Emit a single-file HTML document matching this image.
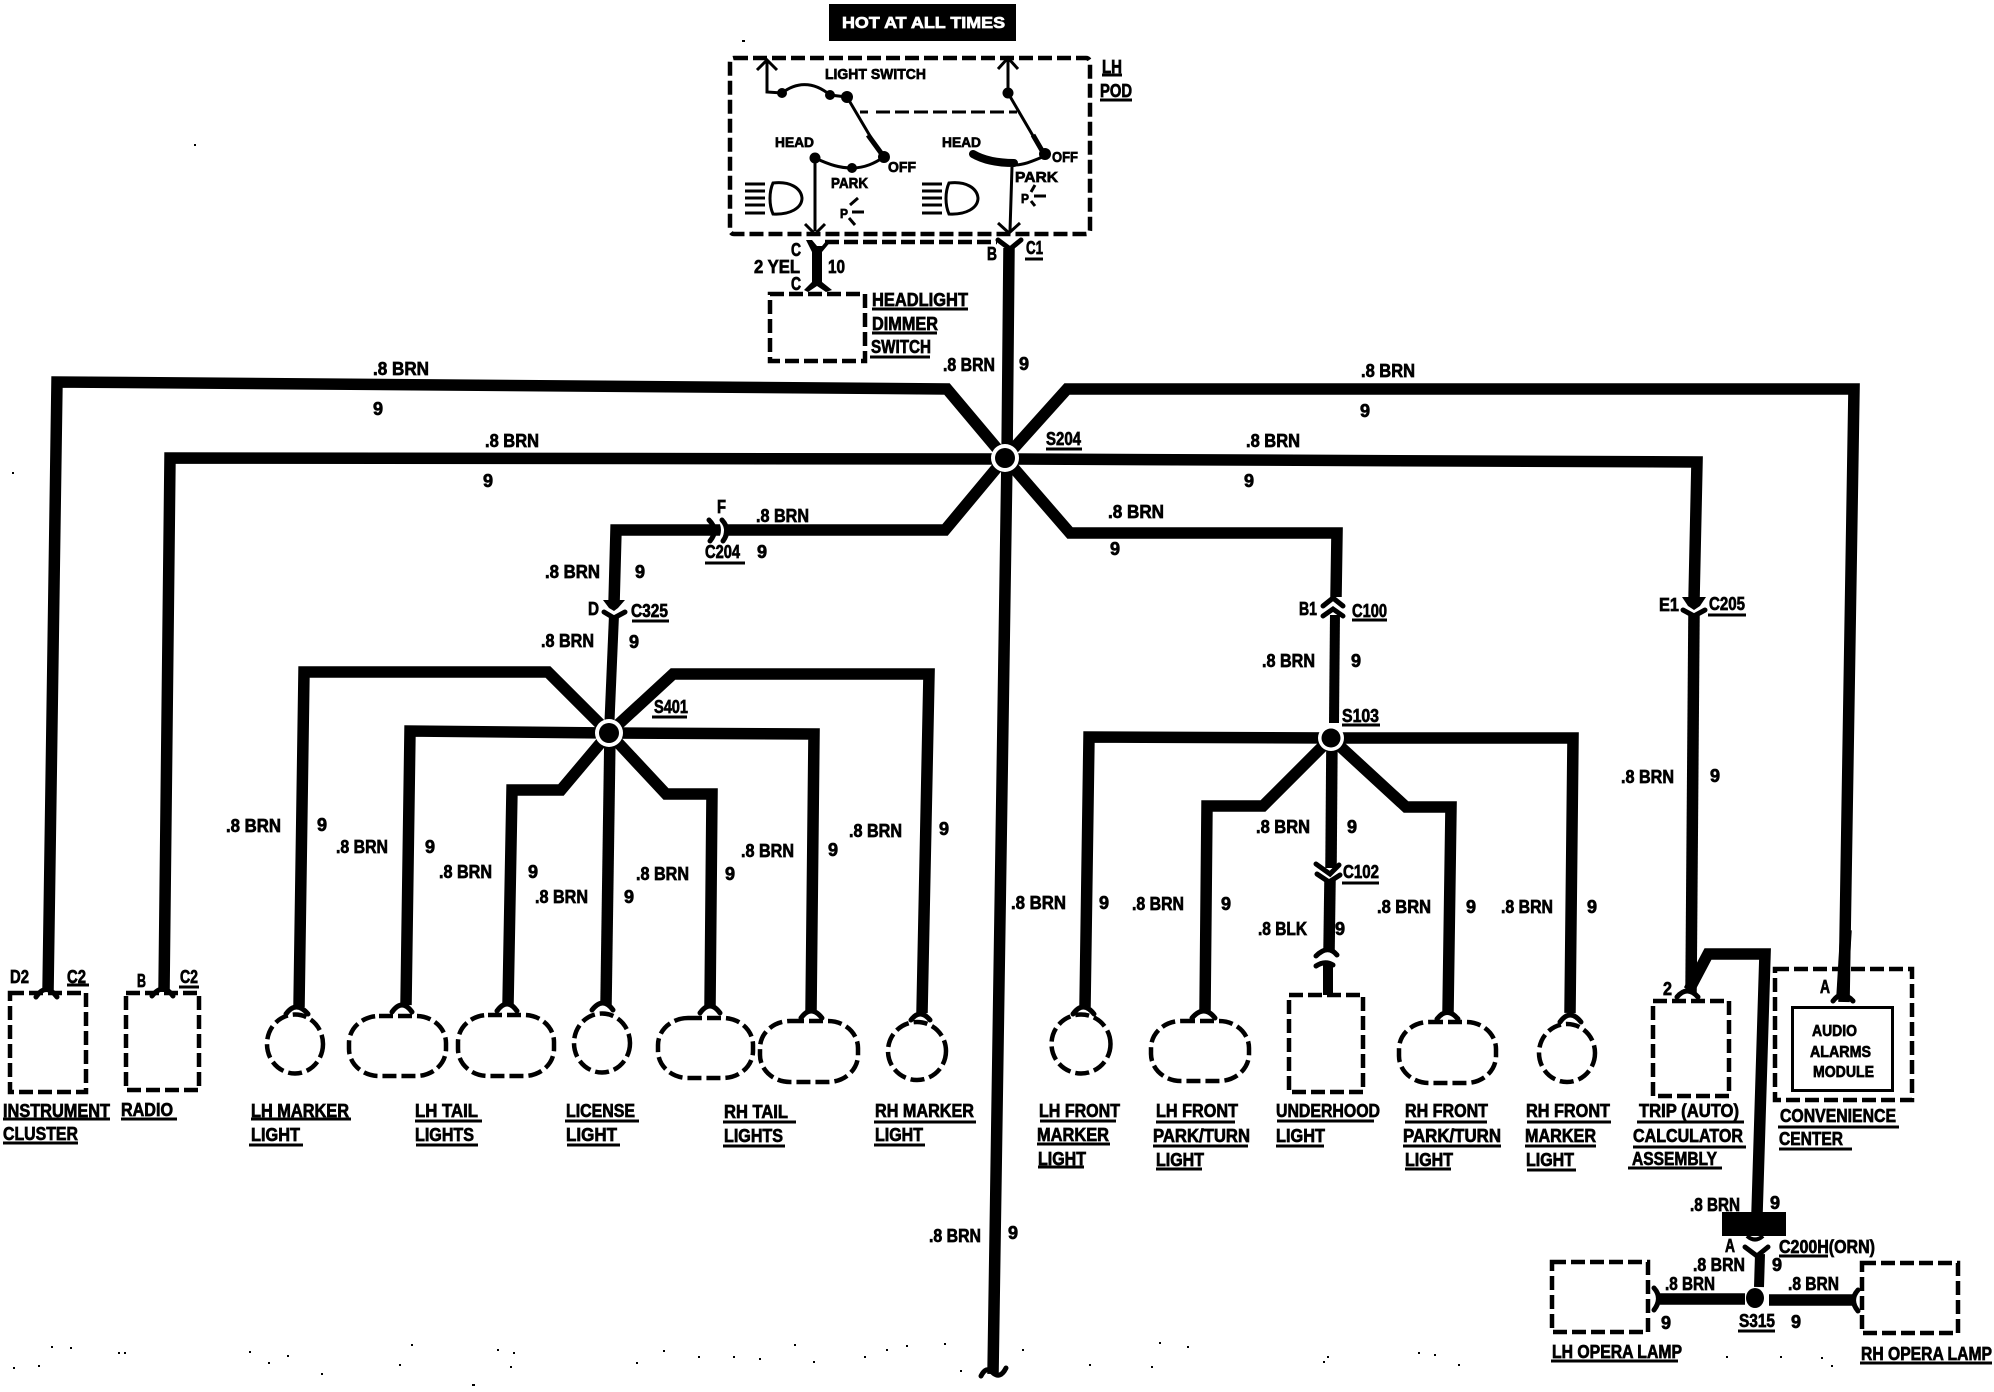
<!DOCTYPE html>
<html><head><meta charset="utf-8"><title>Wiring diagram</title>
<style>
html,body{margin:0;padding:0;background:#fff}
svg{display:block}
text{font-family:"Liberation Sans",sans-serif;font-weight:bold;font-size:18px;fill:#000;stroke:#000;stroke-width:.7}
.n text{text-anchor:middle}
.w{fill:none;stroke:#000;stroke-width:11.5;stroke-linejoin:miter}
.t{fill:none;stroke:#000;stroke-width:10;stroke-linejoin:miter}
.c{fill:none;stroke:#000;stroke-width:5;stroke-linecap:round}
.d{fill:none;stroke:#000;stroke-width:4.5;stroke-dasharray:14 5}
.l{fill:none;stroke:#000;stroke-width:3}
.u{fill:none;stroke:#000;stroke-width:3}
</style></head><body>
<svg xmlns="http://www.w3.org/2000/svg" width="1994" height="1392" viewBox="0 0 1994 1392">
<rect width="1994" height="1392" fill="#fff"/>

<!-- header -->
<rect x="829" y="4" width="187" height="37" fill="#000"/>
<text x="842" y="28" textLength="163" lengthAdjust="spacingAndGlyphs" style="fill:#fff;stroke:#fff;font-size:16px">HOT AT ALL TIMES</text>

<!-- pod -->
<rect x="730" y="58" width="360" height="176" rx="4" class="d"/>
<text x="1102" y="73" textLength="20" lengthAdjust="spacingAndGlyphs">LH</text>
<path class="u" d="M1102 75H1122M1100 100H1132"/>
<text x="1100" y="97" textLength="32" lengthAdjust="spacingAndGlyphs">POD</text>
<text x="825" y="79" textLength="101" lengthAdjust="spacingAndGlyphs" style="font-size:15px">LIGHT SWITCH</text>

<path class="l" d="M757 70L767 60L777 70M767 60V92L782 93C795 83 812 80 830 95L847 97L880 153"/>
<path fill="none" stroke="#000" stroke-width="5" d="M868 135L884 157"/>
<circle cx="782" cy="93" r="5"/><circle cx="830" cy="95" r="5"/><circle cx="847" cy="97" r="6"/><circle cx="884" cy="157" r="6"/>
<path class="l" d="M815 158C830 165 840 168 852 168C865 168 875 163 884 157M815 158V231M805 224L815 234L825 224" stroke-width="3"/>
<circle cx="815" cy="158" r="5.5"/><circle cx="852" cy="168" r="5"/>
<path class="l" d="M860 112H868M876 112H1017" stroke-dasharray="14 5"/>
<text x="775" y="147" textLength="39" lengthAdjust="spacingAndGlyphs" style="font-size:14px">HEAD</text>
<text x="888" y="172" textLength="28" lengthAdjust="spacingAndGlyphs" style="font-size:15px">OFF</text>
<text x="831" y="188" textLength="37" lengthAdjust="spacingAndGlyphs" style="font-size:15px">PARK</text>

<path class="l" d="M998 69L1008 58L1018 69M1008 58V93L1043 153"/>
<path fill="none" stroke="#000" stroke-width="5" d="M1033 135L1044 154"/>
<circle cx="1008" cy="93" r="5.5"/><circle cx="1045" cy="154" r="6"/>
<path fill="none" stroke="#000" stroke-width="8" stroke-linecap="round" d="M973 154C985 161 1000 163 1014 163"/>
<path class="l" d="M1014 165C1025 165 1035 160 1045 156M1012 167L1010 231M998 223L1009 233L1020 223"/>
<text x="942" y="147" textLength="39" lengthAdjust="spacingAndGlyphs" style="font-size:14px">HEAD</text>
<text x="1052" y="162" textLength="26" lengthAdjust="spacingAndGlyphs" style="font-size:15px">OFF</text>
<text x="1015" y="182" textLength="43" lengthAdjust="spacingAndGlyphs" style="font-size:15px">PARK</text>

<!-- lamp icons -->
<path class="l" d="M745 184H765M745 191H765M745 198H765M745 205H765M745 213H765"/>
<path class="l" d="M773 183C790 181 801 188 802 198C802 208 790 215 773 214C769 205 769 192 773 183Z"/>
<path class="l" d="M922 184H942M922 191H942M922 198H942M922 205H942M922 213H942"/>
<path class="l" d="M949 183C966 181 977 188 978 198C978 208 966 215 949 214C945 205 945 192 949 183Z"/>
<text x="840" y="218" textLength="8" lengthAdjust="spacingAndGlyphs" style="font-size:13px">P</text>
<path class="l" d="M850 205L858 198M852 212H864M849 218L855 225"/>
<text x="1021" y="203" textLength="8" lengthAdjust="spacingAndGlyphs" style="font-size:13px">P</text>
<path class="l" d="M1031 192L1035 185M1034 196H1046M1031 201L1035 206"/>

<!-- C / C1 -->
<path class="d" d="M825 242H997" stroke-width="3" stroke-dasharray="9 5"/>
<path fill="#000" d="M806 240L812 240L817 246L822 246L827 240L832 240L822 252V282L832 290L826 292L817 286L808 292L804 290L812 282V252Z"/>
<text x="791" y="256" textLength="10" lengthAdjust="spacingAndGlyphs">C</text>
<text x="754" y="273" textLength="46" lengthAdjust="spacingAndGlyphs">2 YEL</text>
<text x="828" y="273" textLength="17" lengthAdjust="spacingAndGlyphs">10</text>
<text x="791" y="290" textLength="10" lengthAdjust="spacingAndGlyphs">C</text>
<rect x="770" y="294" width="95" height="67" class="d"/>
<text x="872" y="306" textLength="96" lengthAdjust="spacingAndGlyphs">HEADLIGHT</text>
<path class="u" d="M872 309H968M872 333H937M870 357H930"/>
<text x="872" y="330" textLength="66" lengthAdjust="spacingAndGlyphs">DIMMER</text>
<text x="871" y="353" textLength="60" lengthAdjust="spacingAndGlyphs">SWITCH</text>

<path class="c" d="M998 240L1010 249L1021 240"/>
<text x="987" y="260" textLength="10" lengthAdjust="spacingAndGlyphs">B</text>
<text x="1026" y="254" textLength="17" lengthAdjust="spacingAndGlyphs">C1</text>
<path class="u" d="M1025 259H1043"/>

<!-- main wires -->
<polyline class="w" points="1009,248 1007,458 993,1374"/>
<polyline class="w" points="48,992 57,382 947,389 1005,458"/>
<polyline class="w" points="164,992 170,458 1005,459"/>
<polyline class="w" points="1844,1002 1854,389 1067,389 1005,458"/>
<polyline class="w" points="1005,459 1697,462 1694,600"/>
<polyline class="w" points="1694,613 1691,993"/>
<polyline class="w" points="1005,458 1070,533 1337,533 1336,597"/>
<polyline class="t" points="1335,612 1334,723"/>
<polyline class="w" points="1005,458 945,530 616,530 614,604"/>

<!-- S401 group -->
<polyline class="t" points="614,615 609,733"/>
<polyline class="w" points="299,1007 304,672 548,672 609,733"/>
<polyline class="w" points="922,1013 929,674 673,674 609,733"/>
<polyline class="w" points="406,1005 410,731 609,733"/>
<polyline class="w" points="811,1013 814,734 609,733"/>
<polyline class="w" points="508,1005 512,790 561,790 609,733"/>
<polyline class="w" points="710,1007 712,794 666,794 609,733"/>
<polyline class="w" points="606,1005 610,733"/>

<!-- S103 group -->
<polyline class="w" points="1085,1007 1089,737 1331,738"/>
<polyline class="w" points="1570,1013 1573,738 1331,738"/>
<polyline class="w" points="1205,1012 1207,806 1263,806 1331,738"/>
<polyline class="w" points="1448,1013 1451,807 1406,807 1331,738"/>
<polyline class="w" points="1332,738 1331,868"/>
<polyline class="w" points="1330,880 1329,952"/>
<polyline class="t" points="1328,964 1328,995"/>

<!-- trip and convenience feeds -->
<polyline class="w" points="1846,930 1842,997"/>
<polyline class="w" points="1689,990 1708,954 1765,954 1757,1214"/>

<!-- splices -->
<circle cx="1005" cy="458" r="14" fill="#fff"/><circle cx="1005" cy="458" r="10" fill="#000"/>
<circle cx="609" cy="733" r="14" fill="#fff"/><circle cx="609" cy="733" r="10" fill="#000"/>
<circle cx="1331" cy="738" r="13" fill="#fff"/><circle cx="1331" cy="738" r="9.5" fill="#000"/>

<!-- C204 -->
<path fill="none" stroke="#fff" stroke-width="3" d="M718 517Q727 530 718 543"/>
<path class="c" stroke-width="4" d="M709 520Q719 530 710 541M722 520Q731 530 723 541"/>
<!-- C325 -->
<path fill="#000" d="M603 600H625L618 608L614 611L609 608Z"/>
<path class="c" d="M604 612L614 618L625 612" stroke-width="4"/>
<!-- C205 -->
<path fill="#000" d="M1682 597H1706L1700 606L1694 610L1688 606Z"/>
<path class="c" d="M1683 610L1694 616L1705 610" stroke-width="4"/>
<!-- C100 -->
<rect x="1318" y="597" width="34" height="18" fill="#fff"/>
<path class="c" d="M1323 606L1333 598L1343 606M1323 616L1333 609L1343 616" stroke-width="4.5"/>
<!-- C102 -->
<rect x="1313" y="870" width="32" height="7" fill="#fff"/>
<path class="c" d="M1316 864L1330 874L1339 865M1317 874L1329 882L1340 875" stroke-width="5"/>
<rect x="1313" y="952" width="30" height="10" fill="#fff"/>
<path class="c" d="M1316 956Q1328 944 1337 955M1316 966Q1325 960 1333 965" stroke-width="5"/>

<!-- cups -->
<path class="c" d="M36 997Q46 982 57 997M152 996Q163 982 173 996M286 1014Q296 1000 308 1014M392 1012Q402 998 412 1012M497 1011Q507 997 517 1011M592 1010Q603 996 613 1010M700 1013Q710 999 720 1013M801 1018Q811 1004 822 1018M911 1020Q920 1008 930 1020M1073 1014Q1083 1000 1094 1014M1192 1018Q1204 1004 1215 1018M1437 1019Q1447 1006 1458 1019M1560 1022Q1570 1008 1581 1022M1677 997Q1687 985 1698 997M1833 1001Q1842 989 1853 1001"/>
<path class="c" d="M981 1376Q986 1366 992 1372Q1000 1380 1006 1368"/>

<!-- dashed devices -->
<rect x="10" y="993" width="76" height="99" class="d"/>
<rect x="126" y="993" width="73" height="97" class="d"/>
<ellipse cx="295" cy="1044" rx="28" ry="29.5" class="d"/>
<rect x="349" y="1016" width="97" height="60" rx="30" ry="27" class="d"/>
<rect x="458" y="1015" width="96" height="61" rx="30" ry="27" class="d"/>
<ellipse cx="602" cy="1043" rx="28" ry="29.5" class="d"/>
<rect x="658" y="1018" width="95" height="60" rx="30" ry="27" class="d"/>
<rect x="760" y="1021" width="98" height="61" rx="30" ry="27" class="d"/>
<ellipse cx="917" cy="1051" rx="29" ry="29" class="d"/>
<ellipse cx="1081" cy="1044" rx="29.5" ry="29.5" class="d"/>
<rect x="1151" y="1021" width="98" height="60" rx="30" ry="27" class="d"/>
<rect x="1289" y="995" width="74" height="97" class="d"/>
<rect x="1399" y="1022" width="97" height="61" rx="30" ry="27" class="d"/>
<ellipse cx="1567" cy="1053" rx="28" ry="29" class="d"/>
<rect x="1653" y="1001" width="76" height="95" class="d"/>
<rect x="1775" y="969" width="137" height="131" class="d"/>
<rect x="1792.500" y="1007.500" width="100" height="83" fill="none" stroke="#000" stroke-width="3"/>
<rect x="1552" y="1262" width="96" height="70" class="d"/>
<rect x="1862" y="1263" width="96" height="70" class="d"/>

<!-- C200H / S315 -->
<rect x="1722" y="1212" width="64" height="24" fill="#000"/>
<path fill="none" stroke="#000" stroke-width="4" d="M1747 1236Q1755 1243 1763 1236"/>
<path class="c" d="M1745 1247L1757 1256L1768 1247"/>
<polyline class="t" points="1760,1254 1759,1287"/>
<ellipse cx="1755" cy="1298" rx="9" ry="10"/>
<polyline class="w" points="1660,1299 1745,1299"/>
<polyline class="w" points="1769,1300 1853,1300"/>
<path class="c" d="M1654 1288Q1663 1298 1654 1310M1858 1290Q1849 1300 1858 1311" stroke-width="4"/>

<!-- wire labels -->
<g>
<text x="373" y="375" textLength="56" lengthAdjust="spacingAndGlyphs">.8 BRN</text>
<text x="485" y="447" textLength="54" lengthAdjust="spacingAndGlyphs">.8 BRN</text>
<text x="943" y="371" textLength="52" lengthAdjust="spacingAndGlyphs">.8 BRN</text>
<text x="1361" y="377" textLength="54" lengthAdjust="spacingAndGlyphs">.8 BRN</text>
<text x="1246" y="447" textLength="54" lengthAdjust="spacingAndGlyphs">.8 BRN</text>
<text x="756" y="522" textLength="53" lengthAdjust="spacingAndGlyphs">.8 BRN</text>
<text x="1108" y="518" textLength="56" lengthAdjust="spacingAndGlyphs">.8 BRN</text>
<text x="545" y="578" textLength="55" lengthAdjust="spacingAndGlyphs">.8 BRN</text>
<text x="541" y="647" textLength="53" lengthAdjust="spacingAndGlyphs">.8 BRN</text>
<text x="1262" y="667" textLength="53" lengthAdjust="spacingAndGlyphs">.8 BRN</text>
<text x="226" y="832" textLength="55" lengthAdjust="spacingAndGlyphs">.8 BRN</text>
<text x="336" y="853" textLength="52" lengthAdjust="spacingAndGlyphs">.8 BRN</text>
<text x="439" y="878" textLength="53" lengthAdjust="spacingAndGlyphs">.8 BRN</text>
<text x="535" y="903" textLength="53" lengthAdjust="spacingAndGlyphs">.8 BRN</text>
<text x="636" y="880" textLength="53" lengthAdjust="spacingAndGlyphs">.8 BRN</text>
<text x="849" y="837" textLength="53" lengthAdjust="spacingAndGlyphs">.8 BRN</text>
<text x="741" y="857" textLength="53" lengthAdjust="spacingAndGlyphs">.8 BRN</text>
<text x="1011" y="909" textLength="55" lengthAdjust="spacingAndGlyphs">.8 BRN</text>
<text x="1132" y="910" textLength="52" lengthAdjust="spacingAndGlyphs">.8 BRN</text>
<text x="1256" y="833" textLength="54" lengthAdjust="spacingAndGlyphs">.8 BRN</text>
<text x="1377" y="913" textLength="54" lengthAdjust="spacingAndGlyphs">.8 BRN</text>
<text x="1501" y="913" textLength="52" lengthAdjust="spacingAndGlyphs">.8 BRN</text>
<text x="1621" y="783" textLength="53" lengthAdjust="spacingAndGlyphs">.8 BRN</text>
<text x="929" y="1242" textLength="52" lengthAdjust="spacingAndGlyphs">.8 BRN</text>
<text x="1690" y="1211" textLength="50" lengthAdjust="spacingAndGlyphs">.8 BRN</text>
<text x="1693" y="1271" textLength="52" lengthAdjust="spacingAndGlyphs">.8 BRN</text>
<text x="1665" y="1290" textLength="50" lengthAdjust="spacingAndGlyphs">.8 BRN</text>
<text x="1788" y="1290" textLength="51" lengthAdjust="spacingAndGlyphs">.8 BRN</text>
<text x="1258" y="935" textLength="49" lengthAdjust="spacingAndGlyphs">.8 BLK</text>
</g>
<g class="n">
<text x="378" y="415">9</text><text x="488" y="487">9</text><text x="1024" y="370">9</text><text x="1365" y="417">9</text><text x="1249" y="487">9</text>
<text x="762" y="558">9</text><text x="1115" y="555">9</text><text x="640" y="578">9</text><text x="634" y="648">9</text><text x="1356" y="667">9</text>
<text x="322" y="831">9</text><text x="430" y="853">9</text><text x="533" y="878">9</text><text x="629" y="903">9</text><text x="730" y="880">9</text>
<text x="944" y="835">9</text><text x="833" y="856">9</text><text x="1104" y="909">9</text><text x="1226" y="910">9</text><text x="1352" y="833">9</text>
<text x="1340" y="935">9</text><text x="1471" y="913">9</text><text x="1592" y="913">9</text><text x="1715" y="782">9</text><text x="1013" y="1239">9</text>
<text x="1775" y="1209">9</text><text x="1777" y="1271">9</text><text x="1666" y="1329">9</text><text x="1796" y="1328">9</text>
</g>

<!-- connector labels -->
<text x="717" y="513" textLength="9" lengthAdjust="spacingAndGlyphs">F</text>
<text x="705" y="558" textLength="35" lengthAdjust="spacingAndGlyphs">C204</text>
<text x="588" y="615" textLength="11" lengthAdjust="spacingAndGlyphs">D</text>
<text x="631" y="617" textLength="37" lengthAdjust="spacingAndGlyphs">C325</text>
<text x="1299" y="615" textLength="18" lengthAdjust="spacingAndGlyphs">B1</text>
<text x="1352" y="617" textLength="35" lengthAdjust="spacingAndGlyphs">C100</text>
<text x="1659" y="611" textLength="20" lengthAdjust="spacingAndGlyphs">E1</text>
<text x="1709" y="610" textLength="36" lengthAdjust="spacingAndGlyphs">C205</text>
<text x="1046" y="445" textLength="35" lengthAdjust="spacingAndGlyphs">S204</text>
<text x="654" y="713" textLength="34" lengthAdjust="spacingAndGlyphs">S401</text>
<text x="1342" y="722" textLength="37" lengthAdjust="spacingAndGlyphs">S103</text>
<text x="1343" y="878" textLength="36" lengthAdjust="spacingAndGlyphs">C102</text>
<text x="10" y="983" textLength="19" lengthAdjust="spacingAndGlyphs">D2</text>
<text x="67" y="983" textLength="19" lengthAdjust="spacingAndGlyphs">C2</text>
<text x="137" y="987" textLength="9" lengthAdjust="spacingAndGlyphs">B</text>
<text x="180" y="983" textLength="18" lengthAdjust="spacingAndGlyphs">C2</text>
<text x="1663" y="995" textLength="9" lengthAdjust="spacingAndGlyphs">2</text>
<text x="1820" y="993" textLength="10" lengthAdjust="spacingAndGlyphs">A</text>
<text x="1725" y="1252" textLength="10" lengthAdjust="spacingAndGlyphs">A</text>
<text x="1779" y="1253" textLength="96" lengthAdjust="spacingAndGlyphs">C200H(ORN)</text>
<text x="1739" y="1327" textLength="36" lengthAdjust="spacingAndGlyphs">S315</text>
<path class="u" d="M705 563H745M632 621H669M1352 620H1387M1708 615H1746M1046 449H1082M652 717H687M1342 725H1380M1342 883H1379M67 985H89M179 987H199M1779 1256H1828M1738 1331H1775"/>

<!-- device labels -->
<g>
<text x="3" y="1117" textLength="107" lengthAdjust="spacingAndGlyphs">INSTRUMENT</text>
<text x="3" y="1140" textLength="75" lengthAdjust="spacingAndGlyphs">CLUSTER</text>
<text x="121" y="1116" textLength="52" lengthAdjust="spacingAndGlyphs">RADIO</text>
<text x="251" y="1117" textLength="98" lengthAdjust="spacingAndGlyphs">LH MARKER</text>
<text x="251" y="1141" textLength="49" lengthAdjust="spacingAndGlyphs">LIGHT</text>
<text x="415" y="1117" textLength="63" lengthAdjust="spacingAndGlyphs">LH TAIL</text>
<text x="415" y="1141" textLength="59" lengthAdjust="spacingAndGlyphs">LIGHTS</text>
<text x="566" y="1117" textLength="69" lengthAdjust="spacingAndGlyphs">LICENSE</text>
<text x="566" y="1141" textLength="51" lengthAdjust="spacingAndGlyphs">LIGHT</text>
<text x="724" y="1118" textLength="64" lengthAdjust="spacingAndGlyphs">RH TAIL</text>
<text x="724" y="1142" textLength="59" lengthAdjust="spacingAndGlyphs">LIGHTS</text>
<text x="875" y="1117" textLength="99" lengthAdjust="spacingAndGlyphs">RH MARKER</text>
<text x="875" y="1141" textLength="48" lengthAdjust="spacingAndGlyphs">LIGHT</text>
<text x="1039" y="1117" textLength="81" lengthAdjust="spacingAndGlyphs">LH FRONT</text>
<text x="1037" y="1141" textLength="72" lengthAdjust="spacingAndGlyphs">MARKER</text>
<text x="1038" y="1165" textLength="48" lengthAdjust="spacingAndGlyphs">LIGHT</text>
<text x="1156" y="1117" textLength="82" lengthAdjust="spacingAndGlyphs">LH FRONT</text>
<text x="1153" y="1142" textLength="97" lengthAdjust="spacingAndGlyphs">PARK/TURN</text>
<text x="1156" y="1166" textLength="48" lengthAdjust="spacingAndGlyphs">LIGHT</text>
<text x="1276" y="1117" textLength="104" lengthAdjust="spacingAndGlyphs">UNDERHOOD</text>
<text x="1276" y="1142" textLength="49" lengthAdjust="spacingAndGlyphs">LIGHT</text>
<text x="1405" y="1117" textLength="83" lengthAdjust="spacingAndGlyphs">RH FRONT</text>
<text x="1403" y="1142" textLength="98" lengthAdjust="spacingAndGlyphs">PARK/TURN</text>
<text x="1405" y="1166" textLength="48" lengthAdjust="spacingAndGlyphs">LIGHT</text>
<text x="1526" y="1117" textLength="84" lengthAdjust="spacingAndGlyphs">RH FRONT</text>
<text x="1525" y="1142" textLength="71" lengthAdjust="spacingAndGlyphs">MARKER</text>
<text x="1526" y="1166" textLength="48" lengthAdjust="spacingAndGlyphs">LIGHT</text>
<text x="1639" y="1117" textLength="100" lengthAdjust="spacingAndGlyphs">TRIP (AUTO)</text>
<text x="1633" y="1142" textLength="110" lengthAdjust="spacingAndGlyphs">CALCULATOR</text>
<text x="1632" y="1165" textLength="85" lengthAdjust="spacingAndGlyphs">ASSEMBLY</text>
<text x="1780" y="1122" textLength="116" lengthAdjust="spacingAndGlyphs">CONVENIENCE</text>
<text x="1779" y="1145" textLength="64" lengthAdjust="spacingAndGlyphs">CENTER</text>
<text x="1552" y="1358" textLength="130" lengthAdjust="spacingAndGlyphs">LH OPERA LAMP</text>
<text x="1861" y="1360" textLength="131" lengthAdjust="spacingAndGlyphs">RH OPERA LAMP</text>
<text x="1812" y="1036" textLength="45" lengthAdjust="spacingAndGlyphs" style="font-size:16px">AUDIO</text>
<text x="1810" y="1057" textLength="61" lengthAdjust="spacingAndGlyphs" style="font-size:16px">ALARMS</text>
<text x="1813" y="1077" textLength="61" lengthAdjust="spacingAndGlyphs" style="font-size:16px">MODULE</text>
</g>
<path class="u" d="M3 1119H110M3 1143H78M121 1119H177M251 1119H351M249 1145H303M415 1121H482M416 1145H478M565 1121H639M567 1145H620M723 1122H796M723 1146H785M874 1122H976M874 1145H925M1040 1121H1116M1037 1144H1110M1038 1167H1084M1156 1122H1235M1153 1146H1248M1156 1169H1202M1277 1121H1374M1276 1146H1324M1405 1122H1487M1403 1146H1501M1405 1169H1451M1527 1122H1611M1525 1146H1596M1527 1170H1576M1637 1122H1744M1633 1147H1746M1628 1168H1722M1778 1127H1899M1779 1149H1852M1551 1361H1678M1860 1363H1992"/>

<!-- scan specks -->
<path fill="none" stroke="#000" stroke-width="2" d="M51 1347h2M70 1348h2M118 1353h2M124 1353h2M13 1368h2M38 1366h2M249 1352h2M268 1363h2M287 1356h2M411 1345h2M399 1365h2M321 1374h2M472 1385h3M497 1350h2M513 1353h2M510 1367h2M663 1351h2M698 1357h2M733 1357h2M636 1363h2M759 1359h2M794 1345h2M813 1362h2M864 1357h2M886 1350h2M906 1346h2M944 1344h2M960 1371h2M1022 1350h2M1089 1365h2M1151 1367h2M1159 1343h2M1187 1347h2M1327 1357h2M1323 1362h2M1418 1353h2M1434 1355h2M1458 1365h2M1726 1357h2M1780 1357h2M1821 1358h2M1831 1366h2M12 473h2M742 41h3M194 145h2"/>
</svg>
</body></html>
